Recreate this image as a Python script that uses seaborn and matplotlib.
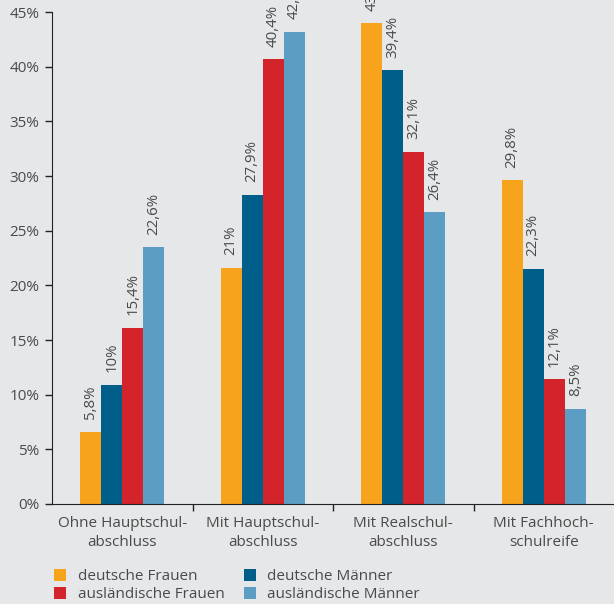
"""
Schulabschluss nach Geschlecht und Nationalität - grouped bar chart
"""

import pandas as pd
import seaborn as sns
from matplotlib import pyplot as plt
from matplotlib.patches import Patch
from matplotlib.ticker import FixedLocator

categories = ["Ohne Hauptschul-\nabschluss", "Mit Hauptschul-\nabschluss",
              "Mit Realschul-\nabschluss", "Mit Fachhoch-\nschulreife"]
groups = ["deutsche Frauen", "deutsche Männer",
          "ausländische Frauen", "ausländische Männer"]

# bar heights as drawn in the picture (%)
deutsche_frauen = [6.6, 21.6, 44.0, 29.6]
deutsche_maenner = [10.9, 28.3, 39.7, 21.5]
auslaendische_frauen = [16.1, 40.7, 32.2, 11.4]
auslaendische_maenner = [23.5, 43.2, 26.7, 8.7]

# printed value labels
labels_deutsche_frauen = ["5,8%", "21%", "43,7%", "29,8%"]
labels_deutsche_maenner = ["10%", "27,9%", "39,4%", "22,3%"]
labels_auslaendische_frauen = ["15,4%", "40,4%", "32,1%", "12,1%"]
labels_auslaendische_maenner = ["22,6%", "42,9%", "26,4%", "8,5%"]

y_ticks = [0, 5, 10, 15, 20, 25, 30, 35, 40, 45]

colors = ["#f8a31c", "#005e8b", "#d3232b", "#5c9ec3"]
bg = "#e6e7e9"
text_col = "#4a4a4a"

sns.set_style("ticks")
plt.rcParams["font.family"] = ["Open Sans", "DejaVu Sans"]


def main():
    values = [deutsche_frauen, deutsche_maenner,
              auslaendische_frauen, auslaendische_maenner]
    labels = [labels_deutsche_frauen, labels_deutsche_maenner,
              labels_auslaendische_frauen, labels_auslaendische_maenner]

    rows = []
    for g, vals in zip(groups, values):
        for c, v in zip(categories, vals):
            rows.append({"cat": c, "group": g, "val": v})
    df = pd.DataFrame(rows)

    fig = plt.figure(figsize=(6.14, 6.04), dpi=100, facecolor=bg)
    ax = fig.add_axes([0.0847, 0.1656, 0.9153, 0.8144])
    ax.set_facecolor(bg)

    sns.barplot(data=df, x="cat", y="val", hue="group", hue_order=groups,
                palette=colors, width=0.6, gap=0, linewidth=0,
                saturation=1, legend=False, ax=ax)

    # value labels above the bars
    for cont, lab in zip(ax.containers, labels):
        ax.bar_label(cont, labels=lab, rotation=90, padding=9,
                     fontsize=10.8, color=text_col, clip_on=False)

    ax.set_xlim(-0.5, 3.5)
    ax.set_ylim(0, 45)
    ax.set_yticks(y_ticks)
    ax.set_yticklabels([f"{t}%" for t in y_ticks])
    ax.set_xlabel("")
    ax.set_ylabel("")
    for t in ax.get_xticklabels():
        t.set_linespacing(1.35)

    # tick marks between categories only
    ax.tick_params(axis="x", which="major", length=0, pad=9,
                   labelsize=11, labelcolor=text_col)
    ax.xaxis.set_minor_locator(FixedLocator([0.5, 1.5, 2.5]))
    ax.tick_params(axis="x", which="minor", length=5, width=1, color="#222222")
    ax.tick_params(axis="y", length=5, width=1, color="#222222",
                   labelsize=11, labelcolor=text_col, pad=4)

    for s in ["top", "right"]:
        ax.spines[s].set_visible(False)
    ax.spines["left"].set_color("#222222")
    ax.spines["bottom"].set_color("#222222")

    # legend, filled column-wise
    order = [0, 2, 1, 3]
    handles = [Patch(facecolor=colors[i], edgecolor="none") for i in order]
    fig.legend(handles, [groups[i] for i in order], ncol=2,
               loc="upper left", bbox_to_anchor=(0.078, 0.068),
               frameon=False, fontsize=11, handlelength=0.8,
               handleheight=0.8, handletextpad=0.75, columnspacing=1.25,
               labelspacing=0.2, labelcolor=text_col, borderaxespad=0)

    fig.savefig("out.png", dpi=100, facecolor=bg)


if __name__ == "__main__":
    main()
